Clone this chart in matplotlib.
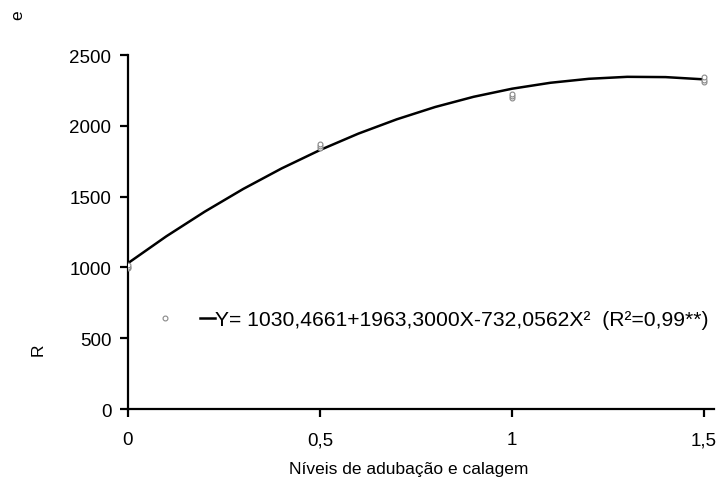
import matplotlib
matplotlib.use("Agg")
import matplotlib.pyplot as plt

plt.rcParams['font.family'] = ['Liberation Sans', 'DejaVu Sans']

# observed replicates
obs_x = [0, 0, 0, 0.5, 0.5, 0.5, 1, 1, 1, 1.5, 1.5, 1.5]
obs_y = [995, 1005, 1015, 1845, 1860, 1875, 2195, 2210, 2225, 2310, 2325, 2345]

# fitted curve
fit_x = [0, 0.1, 0.2, 0.3, 0.4, 0.5, 0.6, 0.7, 0.8, 0.9, 1.0, 1.1, 1.2, 1.3, 1.4, 1.5]
fit_y = [1030, 1220, 1394, 1554, 1699, 1829, 1945, 2046, 2133, 2205, 2262, 2304, 2332, 2346, 2344, 2328]

x_ticks = [0, 0.5, 1, 1.5]
x_ticklabels = ['0', '0,5', '1', '1,5']
y_ticks = [0, 500, 1000, 1500, 2000, 2500]

eq_label = "Y= 1030,4661+1963,3000X-732,0562X²  (R²=0,99**)"

fig = plt.figure(figsize=(7.28, 4.85), dpi=100)
ax = fig.add_axes([0.1758, 0.1546, 0.8050, 0.7299])

pts, = ax.plot(obs_x, obs_y, linestyle='none', marker='o', ms=3.5,
               mfc='white', mec='#888888', mew=0.8, zorder=3)
line, = ax.plot(fit_x, fit_y, color='black', lw=1.8, zorder=2)

ax.set_xlim(0, 1.526)
ax.set_ylim(0, 2500)
ax.set_xticks(x_ticks)
ax.set_xticklabels(x_ticklabels)
ax.set_yticks(y_ticks)
for s in ['top', 'right']:
    ax.spines[s].set_visible(False)
for s in ['left', 'bottom']:
    ax.spines[s].set_linewidth(1.6)
ax.tick_params(direction='out', length=6, width=1.6, labelsize=13.5, pad=6)
ax.tick_params(axis='x', pad=10)
ax.set_xlabel('Níveis de adubação e calagem', fontsize=12.5)
ax.xaxis.set_label_coords(0.4795, -0.147)

leg = ax.legend([pts, line], ['', eq_label], ncol=2, frameon=False,
                loc='center left', bbox_to_anchor=(0.051, 0.253),
                fontsize=15.2, handlelength=0.7, handletextpad=0.0,
                columnspacing=1.3, borderaxespad=0, borderpad=0)

fig.text(0.052, 0.278, 'R', rotation=90, fontsize=12.5, ha='center', va='center')
fig.text(0.025, 0.969, 'e', rotation=90, fontsize=12.5, ha='center', va='center')

fig.savefig('out.png', dpi=100)
